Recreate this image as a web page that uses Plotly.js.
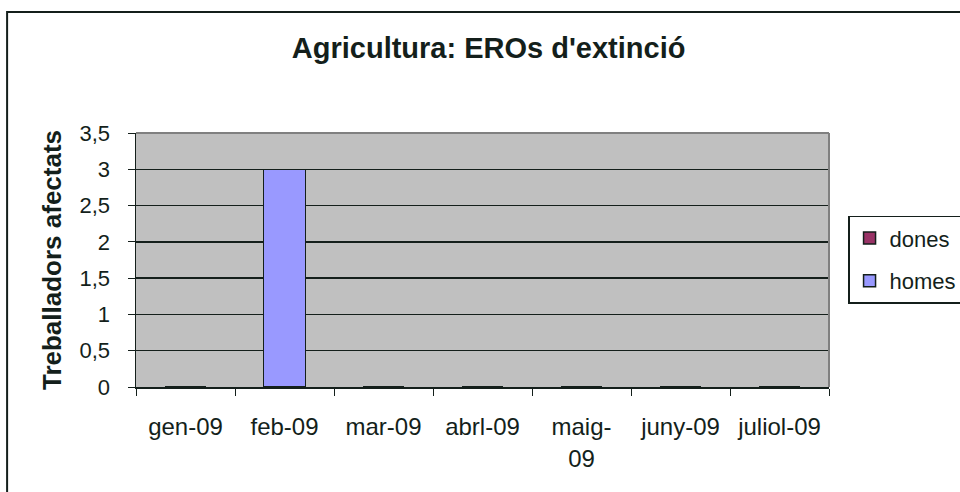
<!DOCTYPE html>
<html>
<head>
<meta charset="utf-8">
<script src="https://cdn.plot.ly/plotly-3.0.1.min.js"></script>
<style>html,body{margin:0;padding:0;background:#fff;}#chart{width:960px;height:492px;}</style>
</head>
<body>
<div id="chart"></div>
<script>
var categories = ["gen-09", "feb-09", "mar-09", "abrl-09", "maig-<br>09", "juny-09", "juliol-09"];
var homes = [0, 3, 0, 0, 0, 0, 0];
var dones = [0, 0, 0, 0, 0, 0, 0];
var yTicks = [0, 0.5, 1, 1.5, 2, 2.5, 3, 3.5];
var yTickText = ["0", "0,5", "1", "1,5", "2", "2,5", "3", "3,5"];

var font = "Liberation Sans, Arial, sans-serif";
var ink = "#141f1b";

var traces = [
  {type: "bar", name: "homes", x: categories, y: homes, legendgroup: "h", legendrank: 2,
   marker: {color: "#9999FF", line: {color: ink, width: 1.5}}},
  {type: "bar", name: "dones", x: categories, y: dones, legendgroup: "d", legendrank: 1,
   marker: {color: "#993366", line: {color: ink, width: 1.5}}}
];

var layout = {
  width: 960, height: 492,
  margin: {l: 136, r: 131, t: 133, b: 105, autoexpand: false},
  paper_bgcolor: "#fff",
  plot_bgcolor: "#C0C0C0",
  barmode: "stack",
  bargap: 0.58,
  font: {family: font, size: 22, color: ink},
  title: {text: "<b>Agricultura: EROs d'extinció</b>", font: {family: font, size: 29, color: ink},
          x: 0.509, xanchor: "center", y: 0.903, yanchor: "middle"},
  xaxis: {type: "category", tickson: "boundaries", ticks: "outside", ticklen: 7, tickcolor: ink,
          showline: true, linecolor: ink, linewidth: 1.5, showgrid: false, automargin: false,
          tickfont: {family: font, size: 24, color: ink}, ticklabelstandoff: 18},
  yaxis: {range: [0, 3.5], tickvals: yTicks, ticktext: yTickText, ticks: "outside", ticklen: 7,
          tickcolor: ink, showline: true, linecolor: ink, linewidth: 1.5, automargin: false,
          gridcolor: ink, gridwidth: 1.3, zeroline: false, ticklabelstandoff: 13,
          tickfont: {family: font, size: 22, color: ink},
          title: {text: "<b>Treballadors afectats</b>", font: {family: font, size: 26, color: ink}, standoff: 10}},
  legend: {x: 1.0275, xanchor: "left", y: 0.674, yanchor: "top", bordercolor: ink, borderwidth: 1.5,
           bgcolor: "#fff", font: {family: font, size: 22, color: ink},
           traceorder: "grouped", tracegroupgap: 11, itemwidth: 30},
  shapes: [
    {type: "line", xref: "paper", yref: "paper", x0: 0, x1: 1, y0: 1, y1: 1, line: {color: "#808080", width: 2}},
    {type: "line", xref: "paper", yref: "paper", x0: 1, x1: 1, y0: 0, y1: 1, line: {color: "#808080", width: 2}},
    {type: "rect", xref: "paper", yref: "paper", x0: -0.186, x1: 1.3, y0: -0.5, y1: 1.476,
     line: {color: ink, width: 2}, layer: "below"}
  ]
};

Plotly.newPlot("chart", traces, layout, {displayModeBar: false, staticPlot: true});
</script>
</body>
</html>
